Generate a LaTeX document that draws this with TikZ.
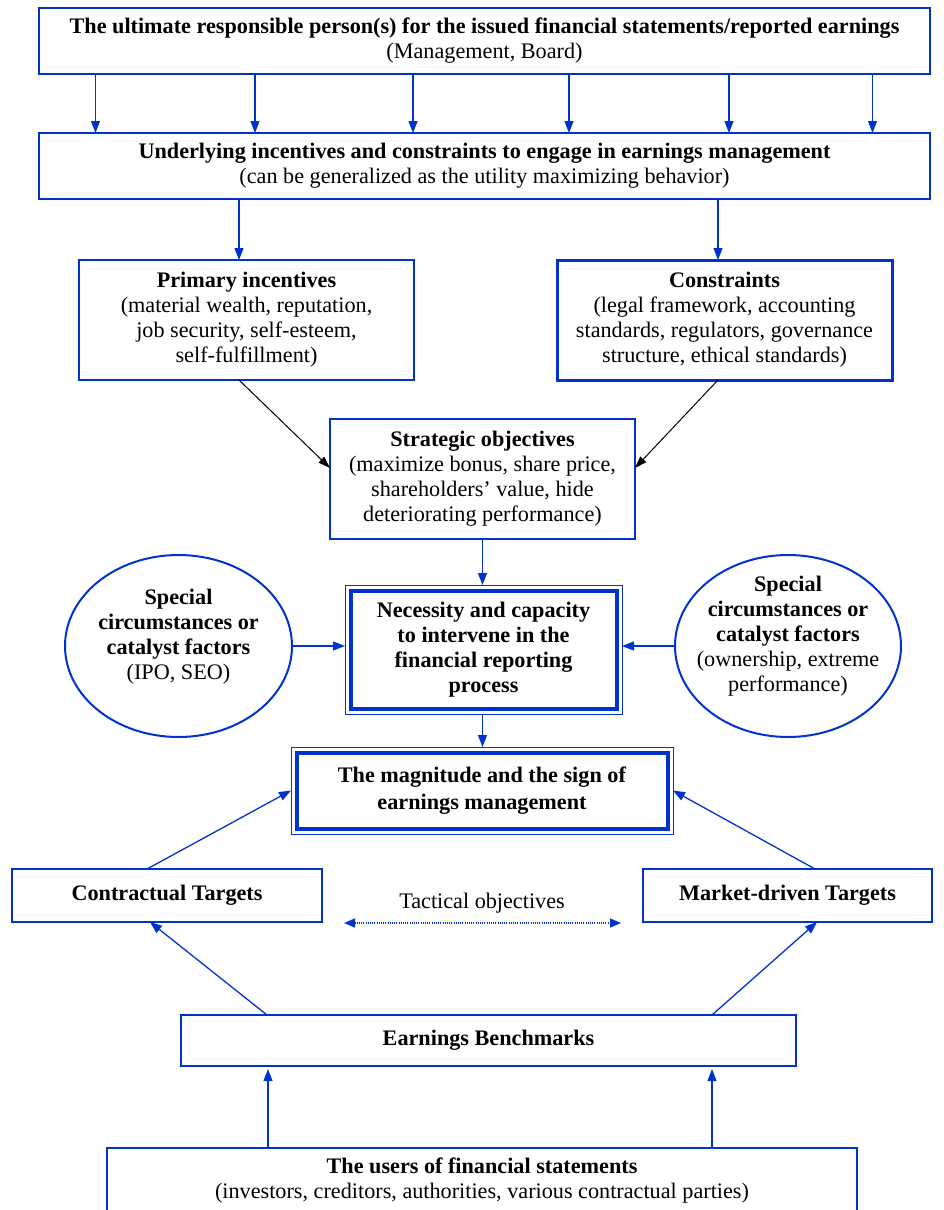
\documentclass[tikz,border=0pt]{standalone}
\usepackage{fontspec}
\setmainfont{Liberation Serif}
\usetikzlibrary{arrows.meta,shapes.geometric,fit}
\definecolor{myblue}{RGB}{0,51,204}
\begin{document}
\begin{tikzpicture}[x=1pt,y=-1pt,
  txt/.style={font=\fontsize{22.2}{25}\selectfont, align=center, text=black},
  box/.style={txt, rectangle, draw=myblue, line width=2pt, fill=white, inner sep=0pt, outer sep=0pt},
  heavybox/.style={box, line width=4pt},
  frame/.style={rectangle, draw=myblue, line width=1pt, inner sep=5.5pt, outer sep=0pt},
  ell/.style={ellipse, draw=myblue, line width=2pt, inner sep=0pt, outer sep=0pt},
  arr/.style={draw=myblue, line width=1.3pt, -{Triangle[length=12pt,width=9pt]}},
  barr/.style={draw=black, line width=1pt, -{Triangle[length=12pt,width=8pt]}},
  dotarr/.style={draw=myblue, line width=1.3pt, dash pattern=on 1pt off 1.2pt,
     {Triangle[length=11pt,width=9pt]}-{Triangle[length=11pt,width=9pt]}}
]
\useasboundingbox (0,0) rectangle (943,1210);

% boxes
\node[box, minimum width=891pt, minimum height=66pt] (top) at (484.5,41)
  {\textbf{The ultimate responsible person(s) for the issued financial statements/reported earnings}\\(Management, Board)};
\node[box, minimum width=891pt, minimum height=66pt] (under) at (484.5,166)
  {\textbf{Underlying incentives and constraints to engage in earnings management}\\(can be generalized as the utility maximizing behavior)};
\node[box, minimum width=335pt, minimum height=120pt] (prim) at (246.5,320)
  {\textbf{Primary incentives}\\(material wealth, reputation,\\job security, self-esteem,\\self-fulfillment)};
\node[box, line width=3pt, minimum width=335pt, minimum height=120pt] (cons) at (724.5,320)
  {\textbf{Constraints}\\(legal framework, accounting\\standards, regulators, governance\\structure, ethical standards)};
\node[box, line width=2.5pt, minimum width=305pt, minimum height=120pt] (strat) at (482.5,479)
  {\textbf{Strategic objectives}\\(maximize bonus, share price,\\shareholders’ value, hide\\deteriorating performance)};
\node[heavybox, minimum width=266pt, minimum height=118pt] (nec) at (483.5,649.5)
  {\textbf{Necessity and capacity}\\\textbf{to intervene in the}\\\textbf{financial reporting}\\\textbf{process}};
\node[frame, fit=(nec)] (necF) {};
\node[heavybox, minimum width=371pt, minimum height=76pt] (mag) at (482,790.5)
  {\textbf{The magnitude and the sign of}\\[2pt]\textbf{earnings management}};
\node[frame, fit=(mag)] (magF) {};

% ellipses
\node[ell, minimum width=227pt, minimum height=182pt] (ellL) at (178.5,646) {};
\node[txt] (ellLt) at ([yshift=9pt]ellL.center)
  {\textbf{Special}\\\textbf{circumstances or}\\\textbf{catalyst factors}\\(IPO, SEO)};
\node[ell, minimum width=226pt, minimum height=182pt] (ellR) at (788,646) {};
\node[txt] (ellRt) at ([yshift=10pt]ellR.center)
  {\textbf{Special}\\\textbf{circumstances or}\\\textbf{catalyst factors}\\(ownership, extreme\\performance)};

% targets
\node[box, minimum width=310pt, minimum height=53pt] (contr) at (167,895.5) {\textbf{Contractual Targets}};
\node[box, minimum width=289pt, minimum height=53pt] (market) at (787.5,895.5) {\textbf{Market-driven Targets}};
\node[txt] (tact) at (482,903) {Tactical objectives};
\node[box, minimum width=615pt, minimum height=51pt] (bench) at (488.5,1040.5) {\textbf{Earnings Benchmarks}};

% users (box runs past the lower edge)
\node[txt, minimum width=750pt, anchor=north, inner xsep=0pt, inner ysep=10pt, outer sep=0pt] (users) at (482,1148)
  {\textbf{The users of financial statements}\\(investors, creditors, authorities, various contractual parties)};
\draw[draw=myblue, line width=2pt] ([yshift=-90pt]users.north west) -- (users.north west) -- (users.north east) -- ([yshift=-90pt]users.north east);

% connectors
\foreach \x [count=\i] in {95.5,255,413,569,729,872.5} {
  \coordinate (t\i) at (\x,0);
  \draw[arr] (top.south -| t\i) -- (under.north -| t\i);
}
\coordinate (pa) at (239,0);
\coordinate (ca) at (718,0);
\coordinate (sy) at (0,468);
\draw[arr] (under.south -| pa) -- (prim.north -| pa);
\draw[arr] (under.south -| ca) -- (cons.north -| ca);
\draw[barr] (prim.south -| pa) -- (strat.west |- sy);
\draw[barr] (cons.south -| ca) -- (strat.east |- sy);

\draw[arr] (strat.south) -- (strat.south |- necF.north);
\draw[arr] (ellL.east) -- (ellL.east -| necF.west);
\draw[arr] (ellR.west) -- (ellR.west -| necF.east);
\draw[arr] (necF.south -| strat.south) -- (magF.north -| strat.south);

\coordinate (cx) at (147,0);
\coordinate (mx) at (815,0);
\draw[arr] (contr.north -| cx) -- (magF.west);
\draw[arr] (market.north -| mx) -- (magF.east);

\draw[dotarr] ([xshift=22pt,yshift=-1pt]contr.south east) -- ([xshift=-22pt,yshift=-1pt]market.south west);

\coordinate (b1) at (267,0);
\coordinate (b2) at (712,0);
\coordinate (c1) at (150,0);
\coordinate (c2) at (817,0);
\draw[arr] (bench.north -| b1) -- (contr.south -| c1);
\draw[arr] (bench.north -| b2) -- (market.south -| c2);

\coordinate (u1) at (268,0);
\coordinate (u2) at (712,0);
\draw[arr, shorten >=3pt] (users.north -| u1) -- (bench.south -| u1);
\draw[arr, shorten >=3pt] (users.north -| u2) -- (bench.south -| u2);
\end{tikzpicture}
\end{document}
